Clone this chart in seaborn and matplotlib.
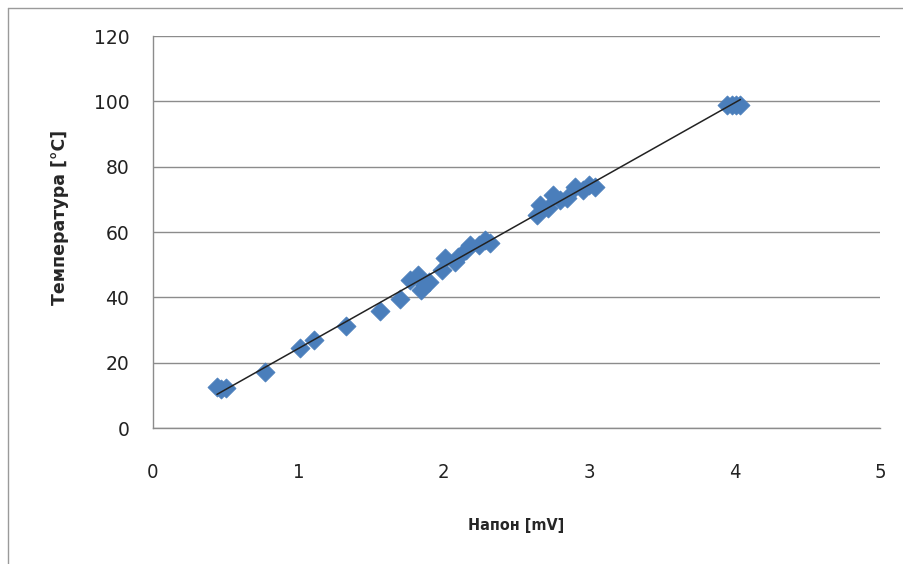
import matplotlib
matplotlib.use("Agg")
import matplotlib.pyplot as plt
from matplotlib.lines import Line2D
import seaborn as sns
import pandas as pd

# Measured thermocouple readings: voltage [mV] vs temperature [°C]
voltage = [0.44, 0.47, 0.50, 0.77, 1.01, 1.11, 1.33, 1.56, 1.70,
           1.77, 1.82, 1.87, 1.84, 1.90, 1.99, 2.01, 2.08, 2.10, 2.15,
           2.18, 2.24, 2.28, 2.32, 2.64, 2.66, 2.72, 2.75, 2.80, 2.85,
           2.90, 2.96, 3.00, 3.04, 3.95, 3.98, 4.01, 4.04]
temperature = [12.5, 11.8, 12.3, 17.1, 24.5, 26.9, 31.2, 35.8, 39.5,
               45.3, 46.8, 43.8, 42.2, 44.7, 48.5, 52.0, 50.8, 52.5, 54.5,
               56.0, 56.0, 57.5, 56.6, 65.2, 68.3, 67.4, 71.3, 69.8, 70.4,
               73.8, 72.8, 74.4, 73.8, 99.0, 99.0, 99.0, 99.0]

x_ticks = [0, 1, 2, 3, 4, 5]
y_ticks = [0, 20, 40, 60, 80, 100, 120]

df = pd.DataFrame({"voltage": voltage, "temperature": temperature})

sns.set_style("white")
plt.rcParams["font.family"] = ["DejaVu Sans"]

fig = plt.figure(figsize=(9.04, 5.64), dpi=100)
ax = fig.add_axes([153 / 904, 1 - 428 / 564, (880 - 153) / 904, (428 - 36) / 564])

sns.regplot(data=df, x="voltage", y="temperature", ax=ax, ci=None,
            marker="D", truncate=True,
            scatter_kws={"s": 95, "color": "#4A7EBB", "edgecolor": "#4A7EBB",
                         "linewidths": 0.5, "alpha": 1, "zorder": 3},
            line_kws={"color": "#222222", "linewidth": 1.1, "zorder": 4})

ax.set_xlim(0, 5)
ax.set_ylim(0, 120)
ax.set_xticks(x_ticks)
ax.set_yticks(y_ticks)
ax.set_xticklabels([str(t) for t in x_ticks], fontsize=14.5, color="#222222",
                   fontstretch="condensed")
ax.set_yticklabels([str(t) for t in y_ticks], fontsize=13.5, color="#222222")
ax.tick_params(axis="x", length=0, pad=25)
ax.tick_params(axis="y", length=0, pad=17)

ax.yaxis.grid(True, color="#8c8c8c", linewidth=1.0)
ax.xaxis.grid(False)
ax.set_axisbelow(True)
for side in ("top", "right"):
    ax.spines[side].set_visible(False)
for side in ("left", "bottom"):
    ax.spines[side].set_color("#8c8c8c")
    ax.spines[side].set_linewidth(1.0)

ax.set_xlabel("Напон [mV]", fontsize=11.5, fontweight="bold", labelpad=26,
              fontstretch="condensed")
ax.set_ylabel("Температура [°C]", fontsize=12.5, fontweight="bold", labelpad=18)
ax.yaxis.label.set_y(0.538)

# outer chart frame
fig.add_artist(Line2D([8 / 904, 8 / 904], [0, 1 - 8 / 564],
                      transform=fig.transFigure, color="#9a9a9a", linewidth=1.0))
fig.add_artist(Line2D([8 / 904, 1], [1 - 8 / 564, 1 - 8 / 564],
                      transform=fig.transFigure, color="#9a9a9a", linewidth=1.0))

fig.savefig("out.png", dpi=100)
